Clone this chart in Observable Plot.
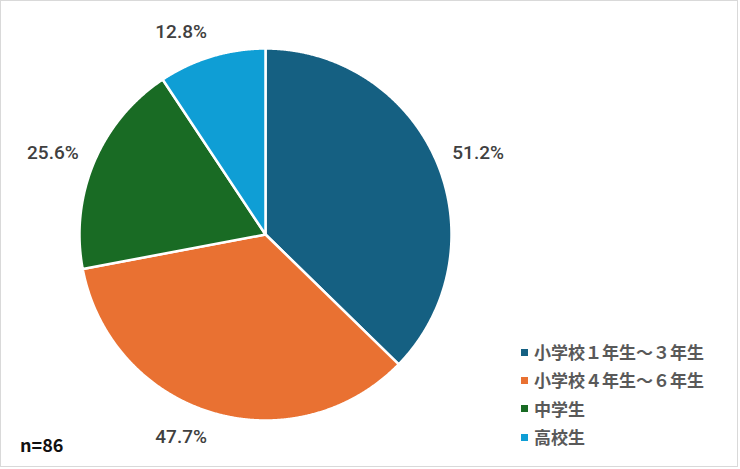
<!DOCTYPE html>
<html><head><meta charset="utf-8">
<script src="https://cdn.jsdelivr.net/npm/d3@7"></script>
<script src="https://cdn.jsdelivr.net/npm/@observablehq/plot@0.6"></script>
<style>
html,body{margin:0;padding:0;background:#fff;}
#wrap{position:relative;width:740px;height:469px;overflow:hidden;background:#fff;}
#wrap > svg{position:absolute;left:0;top:0;}
#frame{position:absolute;left:0;top:0;width:738px;height:467px;border:1px solid #d9d9d9;box-sizing:border-box;pointer-events:none;}
#legend{position:absolute;left:521px;top:338px;width:210px;}
#legend > div{font-family:"Noto Sans CJK JP",sans-serif !important;font-size:17px !important;font-weight:700 !important;color:#595959 !important;margin:0 !important;columns:1 !important;}
#legend > div > div{line-height:28.3px !important;height:28.3px;margin:0 !important;padding:0 !important;display:flex;align-items:center;}
#legend svg{margin-right:6px !important;}
#note{position:absolute;left:20px;top:431px;font-family:"Noto Sans CJK JP",sans-serif;font-size:18px;font-weight:700;color:#111;}
</style></head>
<body><div id="wrap"></div>
<script>
const categories = ["小学校１年生～３年生", "小学校４年生～６年生", "中学生", "高校生"];
const percents = [51.2, 47.7, 25.6, 12.8];
const colors = ["#156082", "#E97132", "#196B24", "#0F9ED5"];
const sampleSize = 86;

const rows = categories.map((name, i) => ({name, value: percents[i]}));
const arcs = d3.pie().sort(null).value(d => d.value)(rows);
const step = Math.PI / 720;
const features = arcs.map(a => {
  const ring = [[0, 0]];
  const n = Math.max(2, Math.ceil((a.endAngle - a.startAngle) / step));
  for (let i = 0; i <= n; i++) {
    const t = a.startAngle + (a.endAngle - a.startAngle) * i / n;
    ring.push([Math.sin(t), -Math.cos(t)]);
  }
  ring.push([0, 0]);
  return {type: "Feature", properties: {name: a.data.name}, geometry: {type: "Polygon", coordinates: [ring]}};
});
// outside-end labels: the label box touches a point just outside the rim on the mid-angle
const labelRadius = 1.09;
const halfTextHeight = 0.045;
const labels = arcs.map(a => {
  const m = (a.startAngle + a.endAngle) / 2;
  return {
    x: Math.sin(m) * labelRadius,
    y: -Math.cos(m) * (labelRadius + halfTextHeight),
    right: Math.sin(m) >= 0,
    text: a.data.value.toFixed(1) + "%"
  };
});
const textStyle = {x: "x", y: "y", text: "text", fontSize: 19, fontWeight: 500, fill: "#404040", fontFamily: "Roboto"};

const wrap = document.getElementById("wrap");
const chart = Plot.plot({
  width: 740, height: 469,
  marginLeft: 79, marginTop: 48, marginRight: 289, marginBottom: 49,
  style: {background: "transparent", overflow: "visible"},
  projection: {type: "identity", clip: false, domain: {type: "MultiPoint", coordinates: [[-1, -1], [1, 1]]}},
  color: {domain: categories, range: colors},
  marks: [
    Plot.geo(features, {fill: d => d.properties.name, stroke: "white", strokeWidth: 2.5, strokeLinejoin: "round"}),
    Plot.text(labels.filter(d => d.right), {...textStyle, textAnchor: "start"}),
    Plot.text(labels.filter(d => !d.right), {...textStyle, textAnchor: "end"})
  ]
});
wrap.appendChild(chart);

const legendBox = document.createElement("div");
legendBox.id = "legend";
legendBox.appendChild(Plot.legend({color: {domain: categories, range: colors}, columns: 1, swatchSize: 7}));
wrap.appendChild(legendBox);

const note = document.createElement("div");
note.id = "note";
note.textContent = "n=" + sampleSize;
wrap.appendChild(note);

const frame = document.createElement("div");
frame.id = "frame";
wrap.appendChild(frame);
</script>
</body></html>
